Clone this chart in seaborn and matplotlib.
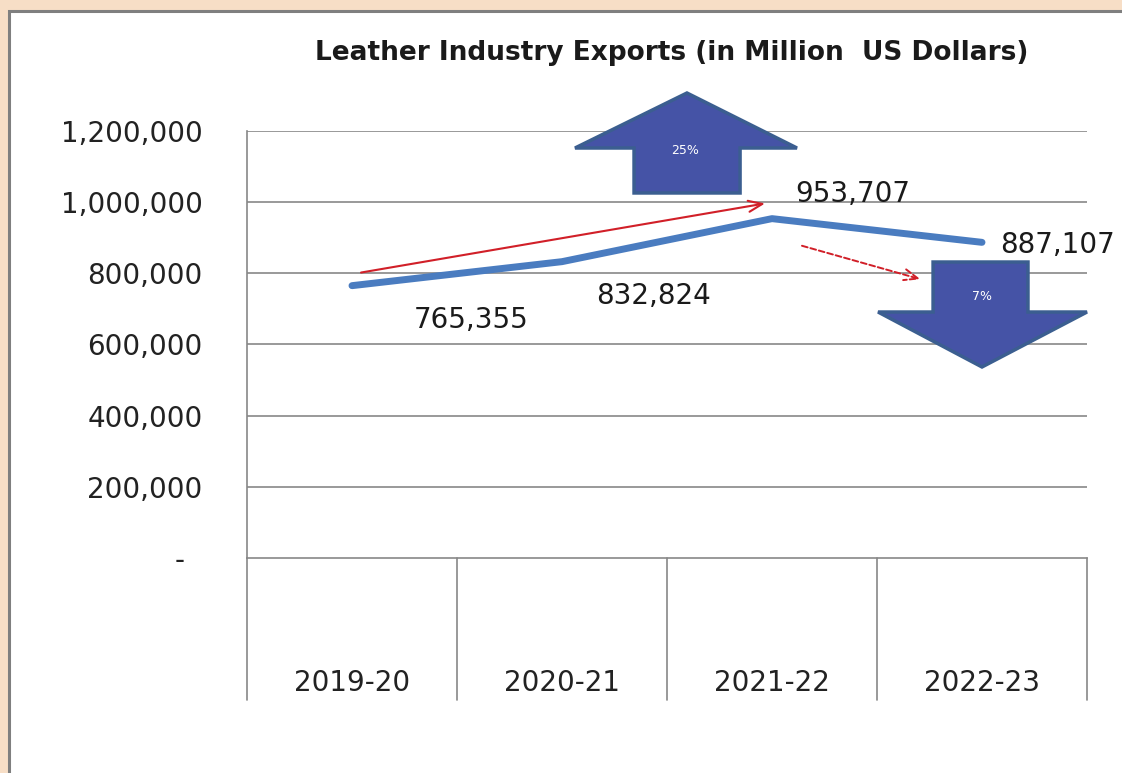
import numpy as np
import pandas as pd
import seaborn as sns
import matplotlib.pyplot as plt
from matplotlib.patches import Rectangle, Polygon

sns.set_style("white")
plt.rcParams["font.family"] = ["DejaVu Sans"]

# data
years = ["2019-20", "2020-21", "2021-22", "2022-23"]
exports = [765355, 832824, 953707, 887107]
yticks = [0, 200000, 400000, 600000, 800000, 1000000, 1200000]
ylabels = ["-  ", "200,000", "400,000", "600,000", "800,000", "1,000,000", "1,200,000"]
changes = ["25%", "7%"]

# where the data labels sit relative to their points (offset points)
label_offsets = [(86, -25), (66, -25), (58, 18), (54, -2)]

df = pd.DataFrame({"year": years, "exports": exports})

fig = plt.figure(figsize=(11.22, 7.73), dpi=100)
fig.patch.set_facecolor("#f7dec6")
fig.patches.append(Rectangle((9 / 1122, -0.1), 1.2, 1.1 - 11 / 773, transform=fig.transFigure,
                             facecolor="white", edgecolor="#7f7f7f", lw=2.2, zorder=-5))

ax = fig.add_axes([247 / 1122, 1 - 558 / 773, 840 / 1122, 427 / 773])
ax.set_facecolor("none")
ax.set_zorder(2)

sns.lineplot(data=df, x="year", y="exports", color="#4a7cc0", lw=5, ax=ax,
             solid_capstyle="round", zorder=4)

ax.set_xlim(-0.5, 3.5)
ax.set_ylim(0, 1200000)
ax.set_yticks(yticks)
ax.set_yticklabels(ylabels)
ax.set_xlabel("")
ax.set_ylabel("")
ax.tick_params(axis="y", length=0, pad=32, labelsize=20, labelcolor="#222222")
ax.tick_params(axis="x", length=0, pad=80, labelsize=20, labelcolor="#222222")

for y in yticks[1:]:
    ax.axhline(y, color="#878787", lw=1.2, zorder=1)
for s in ["top", "right"]:
    ax.spines[s].set_visible(False)
ax.spines["left"].set_color("#878787")
ax.spines["left"].set_linewidth(1.2)
ax.spines["bottom"].set_color("#878787")
ax.spines["bottom"].set_linewidth(1.2)

# category box below the plot
xt = ax.get_xaxis_transform()
for b in np.arange(-0.5, len(years), 1.0):
    ax.plot([b, b], [0, -0.333], transform=xt, color="#878787", lw=1.2, clip_on=False)

# data labels
for i, (v, off) in enumerate(zip(exports, label_offsets)):
    ax.annotate(f"{v:,}", (i, v), xytext=off, textcoords="offset points",
                ha="center", va="center", fontsize=20, color="#1a1a1a", zorder=5,
                annotation_clip=False)

# red trend arrows
ax.annotate("", xy=(1.98, 997700), xytext=(0.03, 800900),
            arrowprops=dict(arrowstyle="->,head_length=1.0,head_width=0.4", color="#d11f28", lw=1.5),
            zorder=5)
ax.annotate("", xy=(2.72, 781300), xytext=(2.13, 879600),
            arrowprops=dict(arrowstyle="->,head_length=1.0,head_width=0.4", color="#d11f28", lw=1.4,
                            linestyle=(0, (3, 1.5))),
            zorder=5)

# block arrows with the percentage changes
up = [(1.343, 1025800), (1.343, 1152200), (1.062, 1152200), (1.595, 1306800),
      (2.119, 1152200), (1.848, 1152200), (1.848, 1025800)]
down = [(2.767, 831800), (2.767, 691300), (2.505, 691300), (3.0, 536800),
        (3.5, 691300), (3.219, 691300), (3.219, 831800)]
for pts in (up, down):
    ax.add_patch(Polygon(pts, closed=True, facecolor="#4553a6", edgecolor="#3b5e90",
                         lw=2.5, clip_on=False, zorder=6))
ax.text(1.586, 1146600, changes[0], color="white", fontsize=9, ha="center", va="center", zorder=7)
ax.text(3.0, 733500, changes[1], color="white", fontsize=9, ha="center", va="center", zorder=7)

fig.text(672 / 1122, 1 - 53 / 773, "Leather Industry Exports (in Million  US Dollars)",
         ha="center", va="center", fontsize=19, fontweight="bold", color="#1a1a1a")

fig.savefig("out.png", dpi=100, facecolor=fig.get_facecolor())
